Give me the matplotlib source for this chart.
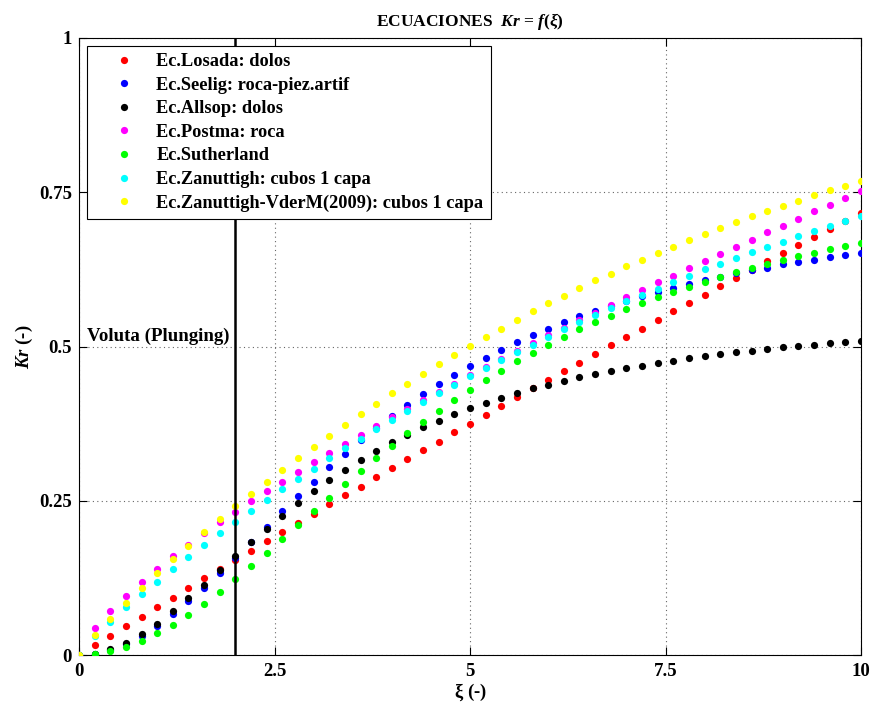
import matplotlib
matplotlib.use("Agg")
import matplotlib.pyplot as plt

plt.rcParams['font.family'] = ['Liberation Serif', 'DejaVu Serif']
plt.rcParams['font.weight'] = 'bold'
plt.rcParams['mathtext.fontset'] = 'custom'
plt.rcParams['mathtext.rm'] = 'Liberation Serif:bold'
plt.rcParams['mathtext.it'] = 'Liberation Serif:italic:bold'
plt.rcParams['mathtext.bf'] = 'Liberation Serif:bold'

xi = [0.0, 0.2, 0.4, 0.6, 0.8, 1.0, 1.2, 1.4, 1.6, 1.8, 2.0,
      2.2, 2.4, 2.6, 2.8, 3.0, 3.2, 3.4, 3.6, 3.8, 4.0,
      4.2, 4.4, 4.6, 4.8, 5.0, 5.2, 5.4, 5.6, 5.8, 6.0,
      6.2, 6.4, 6.6, 6.8, 7.0, 7.2, 7.4, 7.6, 7.8, 8.0,
      8.2, 8.4, 8.6, 8.8, 9.0, 9.2, 9.4, 9.6, 9.8, 10.0]

kr_losada = [0, 0.016, 0.031, 0.047, 0.062, 0.078, 0.093, 0.109, 0.124, 0.139, 0.154,
             0.169, 0.184, 0.199, 0.214, 0.229, 0.244, 0.259, 0.273, 0.288, 0.303,
             0.317, 0.332, 0.346, 0.361, 0.375, 0.389, 0.404, 0.418, 0.432, 0.446,
             0.460, 0.474, 0.488, 0.502, 0.516, 0.529, 0.543, 0.557, 0.570, 0.584,
             0.598, 0.611, 0.624, 0.638, 0.651, 0.664, 0.678, 0.691, 0.704, 0.717]
kr_seelig = [0, 0.002, 0.008, 0.018, 0.031, 0.047, 0.066, 0.087, 0.109, 0.133, 0.158,
             0.183, 0.208, 0.233, 0.257, 0.281, 0.304, 0.326, 0.348, 0.368, 0.387,
             0.405, 0.423, 0.439, 0.454, 0.469, 0.482, 0.495, 0.507, 0.519, 0.529,
             0.540, 0.549, 0.558, 0.566, 0.574, 0.582, 0.589, 0.595, 0.602, 0.608,
             0.613, 0.619, 0.624, 0.628, 0.633, 0.637, 0.641, 0.645, 0.649, 0.652]
kr_allsop = [0, 0.002, 0.009, 0.019, 0.034, 0.051, 0.071, 0.092, 0.114, 0.137, 0.160,
             0.183, 0.205, 0.226, 0.246, 0.265, 0.283, 0.300, 0.316, 0.331, 0.345,
             0.357, 0.369, 0.380, 0.391, 0.400, 0.409, 0.417, 0.425, 0.432, 0.438,
             0.444, 0.450, 0.455, 0.460, 0.465, 0.469, 0.474, 0.477, 0.481, 0.484,
             0.488, 0.491, 0.493, 0.496, 0.499, 0.501, 0.503, 0.505, 0.507, 0.509]
kr_postma = [0, 0.043, 0.072, 0.096, 0.119, 0.140, 0.160, 0.179, 0.197, 0.215, 0.232,
             0.249, 0.265, 0.281, 0.297, 0.312, 0.327, 0.342, 0.357, 0.371, 0.385,
             0.399, 0.413, 0.427, 0.440, 0.453, 0.467, 0.480, 0.492, 0.505, 0.518,
             0.530, 0.543, 0.555, 0.567, 0.580, 0.592, 0.604, 0.615, 0.627, 0.639,
             0.650, 0.662, 0.673, 0.685, 0.696, 0.707, 0.719, 0.730, 0.741, 0.752]
kr_sutherland = [0, 0.001, 0.006, 0.013, 0.023, 0.035, 0.049, 0.065, 0.083, 0.102, 0.123,
                 0.144, 0.166, 0.188, 0.211, 0.233, 0.255, 0.277, 0.298, 0.319, 0.339,
                 0.359, 0.377, 0.396, 0.413, 0.430, 0.446, 0.461, 0.476, 0.490, 0.503,
                 0.516, 0.528, 0.539, 0.550, 0.560, 0.570, 0.580, 0.589, 0.597, 0.605,
                 0.613, 0.620, 0.627, 0.634, 0.641, 0.647, 0.652, 0.658, 0.663, 0.668]
kr_zanuttigh = [0, 0.030, 0.054, 0.077, 0.099, 0.119, 0.140, 0.159, 0.179, 0.197, 0.216,
                0.234, 0.252, 0.269, 0.286, 0.302, 0.319, 0.335, 0.350, 0.366, 0.381,
                0.395, 0.410, 0.424, 0.438, 0.452, 0.465, 0.478, 0.491, 0.503, 0.516,
                0.528, 0.539, 0.551, 0.562, 0.573, 0.584, 0.594, 0.604, 0.615, 0.625,
                0.634, 0.644, 0.653, 0.662, 0.670, 0.679, 0.687, 0.696, 0.703, 0.711]
kr_zanuttigh_vdm = [0, 0.032, 0.059, 0.085, 0.109, 0.133, 0.155, 0.177, 0.199, 0.220, 0.241,
                    0.261, 0.281, 0.300, 0.319, 0.337, 0.355, 0.373, 0.390, 0.407, 0.424,
                    0.440, 0.456, 0.471, 0.486, 0.501, 0.515, 0.529, 0.543, 0.557, 0.570,
                    0.582, 0.595, 0.607, 0.618, 0.630, 0.641, 0.652, 0.662, 0.672, 0.682,
                    0.692, 0.701, 0.711, 0.720, 0.728, 0.736, 0.745, 0.753, 0.760, 0.768]

series = [
    ("Ec.Losada: dolos", kr_losada, "#ff0000"),
    ("Ec.Seelig: roca-piez.artif", kr_seelig, "#0000ff"),
    ("Ec.Allsop: dolos", kr_allsop, "#000000"),
    ("Ec.Postma: roca", kr_postma, "#ff00ff"),
    ("Ec.Sutherland", kr_sutherland, "#00ff00"),
    ("Ec.Zanuttigh: cubos 1 capa", kr_zanuttigh, "#00ffff"),
    ("Ec.Zanuttigh-VderM(2009): cubos 1 capa", kr_zanuttigh_vdm, "#ffff00"),
]

xticks = [0, 2.5, 5, 7.5, 10]
xticklabels = ["0", "2.5", "5", "7.5", "10"]
yticks = [0, 0.25, 0.5, 0.75, 1]
yticklabels = ["0", "0.25", "0.5", "0.75", "1"]
plunging_xi = 2.0

fig = plt.figure(figsize=(8.72, 7.13), dpi=100)
ax = fig.add_axes([79/872, 58/713, 782/872, 617/713])

for label, vals, col in series:
    ax.plot(xi, vals, linestyle='none', marker='o', markersize=5.2,
            markeredgewidth=0, color=col, label=label, zorder=3)

ax.axvline(plunging_xi, color='black', linewidth=1.8, zorder=4)
ax.text(0.1, 0.517, "Voluta (Plunging)", fontsize=13.6, fontweight='bold',
        ha='left', va='center')

ax.set_xlim(0, 10)
ax.set_ylim(0, 1)
ax.set_xticks(xticks)
ax.set_xticklabels(xticklabels)
ax.set_yticks(yticks)
ax.set_yticklabels(yticklabels)
ax.tick_params(direction='in', length=6, width=0.8, top=True, right=True,
               labelsize=13.5)
ax.tick_params(axis='x', pad=6)
ax.tick_params(axis='y', pad=5)
ax.grid(True, color='0.4', linestyle=(0, (1, 3)), linewidth=0.8)
for sp in ax.spines.values():
    sp.set_linewidth(0.8)

ax.set_title(r"ECUACIONES  $Kr$ = $f(\xi)$", fontsize=12.5, fontweight='bold', pad=9)
ax.set_xlabel(r"$\mathrm{\xi}$ (-)", fontsize=13.5, fontweight='bold', labelpad=1)
ax.set_ylabel(r"$Kr$ (-)", fontsize=13.5, fontweight='bold', labelpad=3)

leg = ax.legend(loc='upper left', fontsize=13.2, frameon=True, fancybox=False,
                edgecolor='black', framealpha=1, borderaxespad=0.42,
                handlelength=3.3, handletextpad=0.1, labelspacing=0.36,
                borderpad=0.4, markerscale=1.0)
leg.get_frame().set_linewidth(0.8)
leg.set_zorder(5)

fig.savefig("out.png", dpi=100)
